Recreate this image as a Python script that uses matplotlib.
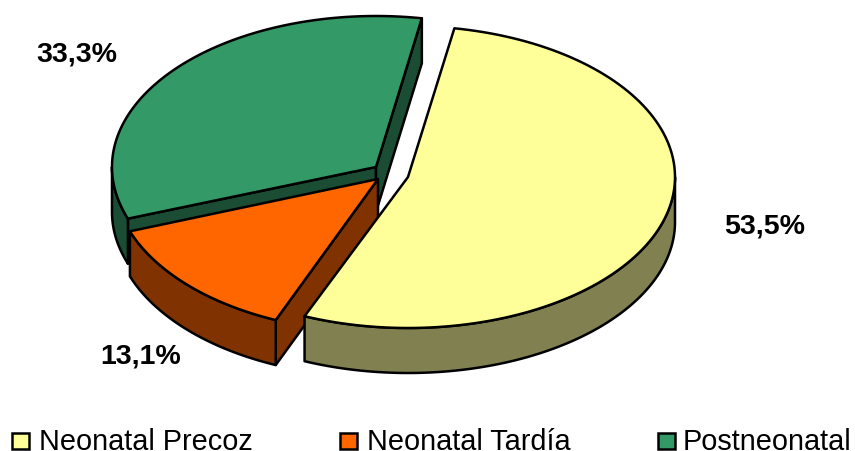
import numpy as np
import matplotlib
matplotlib.use("Agg")
import matplotlib.pyplot as plt
from matplotlib.patches import Polygon, Rectangle

plt.rcParams['font.family'] = ['Liberation Sans', 'DejaVu Sans']

# data
categorias = ["Neonatal Precoz", "Neonatal Tardía", "Postneonatal"]
valores = [53.5, 13.1, 33.3]
rotulos = ["53,5%", "13,1%", "33,3%"]

# colours and layout in pixels
cores_topo = ["#FFFF99", "#FF6600", "#339966"]
cores_lado = ["#808050", "#803300", "#1A4D33"]
centros = [(408, 178), (378, 180), (376, 168)]
raios = [(267, 151), (264, 153), (264, 151)]
pos_rotulos = [(765, 227), (141, 357), (77, 55)]
pos_legenda = [(12, 39), (340, 367), (658, 683)]
ALTURA = 45
INICIO = 10.0
LW = 1.8


def ponto(i, ang):
    # ang in degrees, clockwise from the top of the pie
    t = np.radians(ang)
    cx, cy = centros[i]
    rx, ry = raios[i]
    return cx + rx * np.sin(t), cy - ry * np.cos(t)


def arco(i, a0, a1):
    angs = np.linspace(a0, a1, 120)
    return [ponto(i, a) for a in angs]


def parede(ax, pts, cor):
    baixo = [(x, y + ALTURA) for x, y in reversed(pts)]
    ax.add_patch(Polygon(list(pts) + baixo, closed=True, facecolor=cor,
                         edgecolor="black", lw=LW, joinstyle="round"))


fig = plt.figure(figsize=(8.55, 4.52), dpi=100)
ax = fig.add_axes([0, 0, 1, 1])
ax.set_xlim(0, 855)
ax.set_ylim(452, 0)
ax.axis("off")

# slice angles from the values
total = sum(valores)
limites = [INICIO]
for v in valores:
    limites.append(limites[-1] + 360.0 * v / total)

# drawn back to front so yellow ends up on top
for i in [2, 1, 0]:
    c = centros[i]
    a0, a1 = limites[i], limites[i + 1]

    # flat cut walls, only those facing the viewer
    if i == 1:
        parede(ax, [c, ponto(i, a0)], cores_lado[i])
    if i == 2:
        parede(ax, [c, ponto(i, a0)], cores_lado[i])
        parede(ax, [c, ponto(i, a1)], cores_lado[i])

    # outer wall, front half of the rim only
    f0, f1 = max(a0, 90), min(a1, 270)
    if f1 > f0:
        parede(ax, arco(i, f0, f1), cores_lado[i])

    # top
    ax.add_patch(Polygon([c] + arco(i, a0, a1), closed=True,
                         facecolor=cores_topo[i], edgecolor="black",
                         lw=LW, joinstyle="round"))

for txt, (x, y) in zip(rotulos, pos_rotulos):
    ax.text(x, y, txt, ha="center", va="center", fontsize=20.5,
            fontweight="bold", color="black")

# legend
for nome, cor, (xq, xt) in zip(categorias, cores_topo, pos_legenda):
    ax.add_patch(Rectangle((xq, 434), 17, 16, facecolor=cor,
                           edgecolor="black", lw=LW))
    ax.text(xt, 442, nome, ha="left", va="center", fontsize=20.8, color="black")

fig.savefig("out.png", dpi=100)
